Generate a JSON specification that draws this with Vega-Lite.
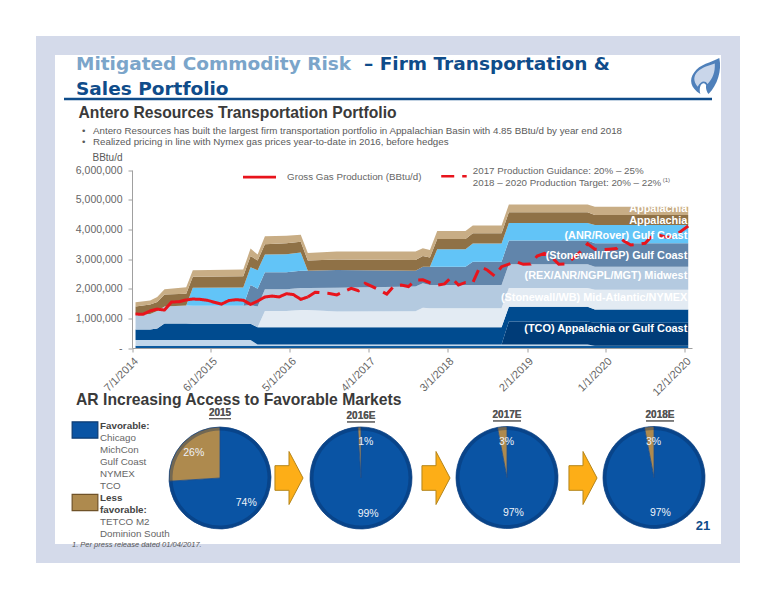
{
  "$schema": "https://vega.github.io/schema/vega-lite/v6.json",
  "width": 685,
  "height": 508,
  "padding": {"left": 45.5, "top": 45.5, "right": 45.5, "bottom": 46.5},
  "autosize": {"type": "none", "contains": "content"},
  "background": "white",
  "view": {"fill": "white", "stroke": "#d4daea", "strokeWidth": 19},
  "config": {"text": {"font": "Liberation Sans"}, "style": {"guide-label": {"font": "Liberation Sans"}}},
  "datasets": {
    "transport": [
      {"date": "2014-07-16", "a_base": 80000, "b_stripe": 190000, "c_tco_deep": 0, "d_tco": 350000, "e_nymex": 0, "f_midwest": 500000, "g_tgp": 0, "h_rover": 0, "i_brown": 280000, "j_tan": 140000},
      {"date": "2014-09-16", "a_base": 80000, "b_stripe": 190000, "c_tco_deep": 0, "d_tco": 350000, "e_nymex": 0, "f_midwest": 530000, "g_tgp": 0, "h_rover": 0, "i_brown": 320000, "j_tan": 130000},
      {"date": "2014-10-16", "a_base": 80000, "b_stripe": 190000, "c_tco_deep": 0, "d_tco": 390000, "e_nymex": 0, "f_midwest": 590000, "g_tgp": 0, "h_rover": 0, "i_brown": 300000, "j_tan": 170000},
      {"date": "2014-11-16", "a_base": 80000, "b_stripe": 190000, "c_tco_deep": 0, "d_tco": 560000, "e_nymex": 0, "f_midwest": 570000, "g_tgp": 0, "h_rover": 0, "i_brown": 400000, "j_tan": 180000},
      {"date": "2015-02-16", "a_base": 80000, "b_stripe": 190000, "c_tco_deep": 0, "d_tco": 560000, "e_nymex": 0, "f_midwest": 600000, "g_tgp": 0, "h_rover": 0, "i_brown": 400000, "j_tan": 220000},
      {"date": "2015-03-16", "a_base": 80000, "b_stripe": 190000, "c_tco_deep": 0, "d_tco": 550000, "e_nymex": 0, "f_midwest": 600000, "g_tgp": 0, "h_rover": 610000, "i_brown": 370000, "j_tan": 220000},
      {"date": "2015-10-16", "a_base": 80000, "b_stripe": 190000, "c_tco_deep": 0, "d_tco": 550000, "e_nymex": 0, "f_midwest": 600000, "g_tgp": 0, "h_rover": 620000, "i_brown": 380000, "j_tan": 230000},
      {"date": "2015-11-16", "a_base": 80000, "b_stripe": 190000, "c_tco_deep": 0, "d_tco": 550000, "e_nymex": 0, "f_midwest": 630000, "g_tgp": 670000, "h_rover": 600000, "i_brown": 380000, "j_tan": 250000},
      {"date": "2015-12-16", "a_base": 80000, "b_stripe": 40000, "c_tco_deep": 0, "d_tco": 580000, "e_nymex": 0, "f_midwest": 700000, "g_tgp": 600000, "h_rover": 620000, "i_brown": 330000, "j_tan": 200000},
      {"date": "2016-01-16", "a_base": 80000, "b_stripe": 40000, "c_tco_deep": 0, "d_tco": 580000, "e_nymex": 550000, "f_midwest": 730000, "g_tgp": 570000, "h_rover": 600000, "i_brown": 350000, "j_tan": 270000},
      {"date": "2016-04-16", "a_base": 80000, "b_stripe": 40000, "c_tco_deep": 0, "d_tco": 580000, "e_nymex": 550000, "f_midwest": 730000, "g_tgp": 570000, "h_rover": 610000, "i_brown": 370000, "j_tan": 250000},
      {"date": "2016-06-16", "a_base": 80000, "b_stripe": 40000, "c_tco_deep": 0, "d_tco": 580000, "e_nymex": 580000, "f_midwest": 740000, "g_tgp": 580000, "h_rover": 620000, "i_brown": 360000, "j_tan": 240000},
      {"date": "2016-07-16", "a_base": 80000, "b_stripe": 40000, "c_tco_deep": 0, "d_tco": 580000, "e_nymex": 580000, "f_midwest": 740000, "g_tgp": 580000, "h_rover": 0, "i_brown": 350000, "j_tan": 250000},
      {"date": "2016-11-16", "a_base": 80000, "b_stripe": 40000, "c_tco_deep": 0, "d_tco": 580000, "e_nymex": 530000, "f_midwest": 800000, "g_tgp": 600000, "h_rover": 0, "i_brown": 350000, "j_tan": 270000},
      {"date": "2017-10-16", "a_base": 80000, "b_stripe": 40000, "c_tco_deep": 0, "d_tco": 580000, "e_nymex": 540000, "f_midwest": 830000, "g_tgp": 530000, "h_rover": 0, "i_brown": 370000, "j_tan": 280000},
      {"date": "2017-11-16", "a_base": 80000, "b_stripe": 40000, "c_tco_deep": 0, "d_tco": 580000, "e_nymex": 660000, "f_midwest": 820000, "g_tgp": 560000, "h_rover": 0, "i_brown": 360000, "j_tan": 260000},
      {"date": "2017-12-16", "a_base": 80000, "b_stripe": 40000, "c_tco_deep": 0, "d_tco": 580000, "e_nymex": 640000, "f_midwest": 780000, "g_tgp": 620000, "h_rover": 0, "i_brown": 310000, "j_tan": 250000},
      {"date": "2018-01-16", "a_base": 80000, "b_stripe": 40000, "c_tco_deep": 0, "d_tco": 580000, "e_nymex": 640000, "f_midwest": 780000, "g_tgp": 620000, "h_rover": 590000, "i_brown": 340000, "j_tan": 270000},
      {"date": "2018-05-16", "a_base": 80000, "b_stripe": 40000, "c_tco_deep": 0, "d_tco": 580000, "e_nymex": 640000, "f_midwest": 780000, "g_tgp": 620000, "h_rover": 590000, "i_brown": 340000, "j_tan": 270000},
      {"date": "2018-06-16", "a_base": 80000, "b_stripe": 40000, "c_tco_deep": 0, "d_tco": 580000, "e_nymex": 640000, "f_midwest": 780000, "g_tgp": 790000, "h_rover": 610000, "i_brown": 350000, "j_tan": 260000},
      {"date": "2018-10-16", "a_base": 80000, "b_stripe": 40000, "c_tco_deep": 0, "d_tco": 580000, "e_nymex": 640000, "f_midwest": 780000, "g_tgp": 790000, "h_rover": 610000, "i_brown": 350000, "j_tan": 260000},
      {"date": "2018-11-16", "a_base": 80000, "b_stripe": 40000, "c_tco_deep": 770000, "d_tco": 500000, "e_nymex": 630000, "f_midwest": 800000, "g_tgp": 800000, "h_rover": 590000, "i_brown": 370000, "j_tan": 260000},
      {"date": "2019-10-16", "a_base": 80000, "b_stripe": 40000, "c_tco_deep": 770000, "d_tco": 500000, "e_nymex": 630000, "f_midwest": 800000, "g_tgp": 800000, "h_rover": 590000, "i_brown": 370000, "j_tan": 260000},
      {"date": "2019-11-16", "a_base": 80000, "b_stripe": 0, "c_tco_deep": 770000, "d_tco": 450000, "e_nymex": 660000, "f_midwest": 780000, "g_tgp": 790000, "h_rover": 620000, "i_brown": 330000, "j_tan": 280000},
      {"date": "2020-12-16", "a_base": 80000, "b_stripe": 0, "c_tco_deep": 770000, "d_tco": 450000, "e_nymex": 660000, "f_midwest": 780000, "g_tgp": 790000, "h_rover": 620000, "i_brown": 330000, "j_tan": 280000}
    ],
    "production": [
      {"date": "2014-07-16", "gross": 1145000, "phase": "actual"},
      {"date": "2014-08-16", "gross": 1135000, "phase": "actual"},
      {"date": "2014-09-16", "gross": 1250000, "phase": "actual"},
      {"date": "2014-10-16", "gross": 1310000, "phase": "actual"},
      {"date": "2014-11-16", "gross": 1280000, "phase": "actual"},
      {"date": "2014-12-16", "gross": 1550000, "phase": "actual"},
      {"date": "2015-01-16", "gross": 1560000, "phase": "actual"},
      {"date": "2015-02-16", "gross": 1620000, "phase": "actual"},
      {"date": "2015-03-16", "gross": 1650000, "phase": "actual"},
      {"date": "2015-04-16", "gross": 1640000, "phase": "actual"},
      {"date": "2015-05-16", "gross": 1610000, "phase": "actual"},
      {"date": "2015-06-16", "gross": 1540000, "phase": "actual"},
      {"date": "2015-07-16", "gross": 1480000, "phase": "actual"},
      {"date": "2015-08-16", "gross": 1600000, "phase": "actual"},
      {"date": "2015-09-16", "gross": 1630000, "phase": "actual"},
      {"date": "2015-10-16", "gross": 1610000, "phase": "actual"},
      {"date": "2015-11-16", "gross": 1470000, "phase": "actual"},
      {"date": "2015-12-16", "gross": 1580000, "phase": "actual"},
      {"date": "2016-01-16", "gross": 1720000, "phase": "actual"},
      {"date": "2016-02-16", "gross": 1750000, "phase": "actual"},
      {"date": "2016-03-16", "gross": 1720000, "phase": "actual"},
      {"date": "2016-04-16", "gross": 1830000, "phase": "actual"},
      {"date": "2016-05-16", "gross": 1800000, "phase": "actual"},
      {"date": "2016-06-16", "gross": 1640000, "phase": "actual"},
      {"date": "2016-07-16", "gross": 1720000, "phase": "actual"},
      {"date": "2016-07-16", "gross": 1720000, "phase": "guidance"},
      {"date": "2016-08-16", "gross": 1880000, "phase": "guidance"},
      {"date": "2016-09-16", "gross": 1860000, "phase": "guidance"},
      {"date": "2016-10-16", "gross": 1840000, "phase": "guidance"},
      {"date": "2016-11-16", "gross": 1790000, "phase": "guidance"},
      {"date": "2016-12-16", "gross": 1900000, "phase": "guidance"},
      {"date": "2017-01-16", "gross": 2010000, "phase": "guidance"},
      {"date": "2017-02-16", "gross": 1930000, "phase": "guidance"},
      {"date": "2017-03-16", "gross": 2180000, "phase": "guidance"},
      {"date": "2017-04-16", "gross": 2070000, "phase": "guidance"},
      {"date": "2017-05-16", "gross": 1950000, "phase": "guidance"},
      {"date": "2017-06-16", "gross": 1820000, "phase": "guidance"},
      {"date": "2017-07-16", "gross": 2090000, "phase": "guidance"},
      {"date": "2017-08-16", "gross": 2120000, "phase": "guidance"},
      {"date": "2017-09-16", "gross": 2070000, "phase": "guidance"},
      {"date": "2017-10-16", "gross": 2290000, "phase": "guidance"},
      {"date": "2017-11-16", "gross": 2300000, "phase": "guidance"},
      {"date": "2017-12-16", "gross": 2200000, "phase": "guidance"},
      {"date": "2018-01-16", "gross": 2120000, "phase": "guidance"},
      {"date": "2018-02-16", "gross": 2160000, "phase": "guidance"},
      {"date": "2018-03-16", "gross": 2380000, "phase": "guidance"},
      {"date": "2018-04-16", "gross": 2120000, "phase": "guidance"},
      {"date": "2018-05-16", "gross": 2210000, "phase": "guidance"},
      {"date": "2018-06-16", "gross": 2200000, "phase": "guidance"},
      {"date": "2018-07-16", "gross": 2740000, "phase": "guidance"},
      {"date": "2018-08-16", "gross": 2630000, "phase": "guidance"},
      {"date": "2018-09-16", "gross": 2430000, "phase": "guidance"},
      {"date": "2018-10-16", "gross": 2740000, "phase": "guidance"},
      {"date": "2018-11-16", "gross": 2830000, "phase": "guidance"},
      {"date": "2018-12-16", "gross": 2910000, "phase": "guidance"},
      {"date": "2019-01-16", "gross": 2820000, "phase": "guidance"},
      {"date": "2019-02-16", "gross": 2830000, "phase": "guidance"},
      {"date": "2019-03-16", "gross": 3100000, "phase": "guidance"},
      {"date": "2019-04-16", "gross": 3190000, "phase": "guidance"},
      {"date": "2019-05-16", "gross": 3060000, "phase": "guidance"},
      {"date": "2019-06-16", "gross": 2820000, "phase": "guidance"},
      {"date": "2019-07-16", "gross": 2830000, "phase": "guidance"},
      {"date": "2019-08-16", "gross": 3020000, "phase": "guidance"},
      {"date": "2019-09-16", "gross": 3250000, "phase": "guidance"},
      {"date": "2019-10-16", "gross": 3510000, "phase": "guidance"},
      {"date": "2019-11-16", "gross": 3330000, "phase": "guidance"},
      {"date": "2019-12-16", "gross": 3310000, "phase": "guidance"},
      {"date": "2020-01-16", "gross": 3330000, "phase": "guidance"},
      {"date": "2020-02-16", "gross": 3350000, "phase": "guidance"},
      {"date": "2020-03-16", "gross": 3620000, "phase": "guidance"},
      {"date": "2020-04-16", "gross": 3470000, "phase": "guidance"},
      {"date": "2020-05-16", "gross": 3490000, "phase": "guidance"},
      {"date": "2020-06-16", "gross": 3530000, "phase": "guidance"},
      {"date": "2020-07-16", "gross": 3780000, "phase": "guidance"},
      {"date": "2020-08-16", "gross": 3800000, "phase": "guidance"},
      {"date": "2020-09-16", "gross": 3730000, "phase": "guidance"},
      {"date": "2020-10-16", "gross": 3750000, "phase": "guidance"},
      {"date": "2020-11-16", "gross": 3940000, "phase": "guidance"},
      {"date": "2020-12-16", "gross": 4110000, "phase": "guidance"}
    ],
    "key_lines": [
      {"date": "2015-10-15", "value": 5760000, "phase": "actual"},
      {"date": "2016-03-03", "value": 5760000, "phase": "actual"},
      {"date": "2018-02-02", "value": 5790000, "phase": "guidance"},
      {"date": "2018-05-21", "value": 5790000, "phase": "guidance"}
    ],
    "key_text": [
      {"date": "2016-04-19", "value": 5760000, "label": "Gross Gas Production (BBtu/d)"},
      {"date": "2018-06-16", "value": 5970000, "label": "2017 Production Guidance: 20% – 25%"},
      {"date": "2018-06-16", "value": 5570000, "label": "2018 – 2020 Production Target: 20% – 22%"}
    ],
    "band_labels": [
      {"date": "2020-12-12", "value": 4670000, "label": "Appalachia"},
      {"date": "2020-12-12", "value": 4290000, "label": "Appalachia"},
      {"date": "2020-12-12", "value": 3760000, "label": "(ANR/Rover) Gulf Coast"},
      {"date": "2020-12-12", "value": 3100000, "label": "(Stonewall/TGP) Gulf Coast"},
      {"date": "2020-12-12", "value": 2420000, "label": "(REX/ANR/NGPL/MGT) Midwest"},
      {"date": "2020-12-12", "value": 1700000, "label": "(Stonewall/WB) Mid-Atlantic/NYMEX"},
      {"date": "2020-12-12", "value": 650000, "label": "(TCO) Appalachia or Gulf Coast"}
    ],
    "pies": [
      {"year": "2015", "group": "Favorable", "share": 0.74},
      {"year": "2015", "group": "Less favorable", "share": 0.26},
      {"year": "2016E", "group": "Favorable", "share": 0.99},
      {"year": "2016E", "group": "Less favorable", "share": 0.01},
      {"year": "2017E", "group": "Favorable", "share": 0.97},
      {"year": "2017E", "group": "Less favorable", "share": 0.03},
      {"year": "2018E", "group": "Favorable", "share": 0.97},
      {"year": "2018E", "group": "Less favorable", "share": 0.03}
    ],
    "market_list": [
      {"text": "Favorable:", "kind": "heading"},
      {"text": "Chicago", "kind": "market"},
      {"text": "MichCon", "kind": "market"},
      {"text": "Gulf Coast", "kind": "market"},
      {"text": "NYMEX", "kind": "market"},
      {"text": "TCO", "kind": "market"},
      {"text": "Less", "kind": "heading"},
      {"text": "favorable:", "kind": "heading"},
      {"text": "TETCO M2", "kind": "market"},
      {"text": "Dominion South", "kind": "market"}
    ]
  },
  "resolve": {"scale": {"x": "independent", "y": "independent", "color": "independent", "theta": "independent", "stroke": "independent", "strokeDash": "independent"}},
  "layer": [
    {
      "data": {"values": [
        {"line": "first", "column": "left", "text": "Mitigated Commodity Risk"},
        {"line": "first", "column": "right", "text": "– Firm Transportation &"},
        {"line": "second", "column": "left", "text": "Sales Portfolio"}
      ]},
      "mark": {"type": "text", "font": "DejaVu Sans", "align": "left", "baseline": "middle", "fontWeight": "bold", "fontSize": 18.5},
      "encoding": {
        "x": {"field": "column", "type": "nominal", "axis": null, "scale": {"domain": ["left", "right"], "range": [30.5, 318.5], "padding": 0}},
        "y": {"field": "line", "type": "nominal", "axis": null, "scale": {"domain": ["first", "second"], "range": [18.5, 43.5], "padding": 0}},
        "text": {"field": "text"},
        "color": {"condition": {"test": "datum.text == 'Mitigated Commodity Risk'", "value": "#7ba5ca"}, "value": "#0f4c8a"}
      }
    },
    {
      "data": {"values": [{"end": "left"}, {"end": "right"}]},
      "mark": {"type": "line", "color": "#0f4c8a", "strokeWidth": 2.5},
      "encoding": {
        "x": {"field": "end", "type": "nominal", "axis": null, "scale": {"domain": ["left", "right"], "range": [18.5, 666.5], "padding": 0}},
        "y": {"field": "end", "type": "nominal", "axis": null, "scale": {"domain": ["left", "right"], "range": [53.5, 53.5], "padding": 0}}
      }
    },
    {
      "data": {"values": [
        {"text": "Antero Resources Transportation Portfolio"},
        {"text": "AR Increasing Access to Favorable Markets"}
      ]},
      "mark": {"type": "text", "align": "left", "baseline": "middle", "fontWeight": "bold", "fontSize": 15.7, "color": "#3a3a3a"},
      "encoding": {
        "x": {"field": "text", "type": "nominal", "axis": null, "scale": {"domain": ["Antero Resources Transportation Portfolio", "AR Increasing Access to Favorable Markets"], "range": [33, 30.5], "padding": 0}},
        "y": {"field": "text", "type": "nominal", "axis": null, "scale": {"domain": ["Antero Resources Transportation Portfolio", "AR Increasing Access to Favorable Markets"], "range": [67.2, 354.5], "padding": 0}},
        "text": {"field": "text"}
      }
    },
    {
      "data": {"values": [
        {"text": "Antero Resources has built the largest firm transportation portfolio in Appalachian Basin with 4.85 BBtu/d by year end 2018"},
        {"text": "Realized pricing in line with Nymex gas prices year-to-date in 2016, before hedges"}
      ]},
      "encoding": {
        "y": {"field": "text", "type": "nominal", "axis": null, "scale": {"domain": ["Antero Resources has built the largest firm transportation portfolio in Appalachian Basin with 4.85 BBtu/d by year end 2018", "Realized pricing in line with Nymex gas prices year-to-date in 2016, before hedges"], "range": [85.2, 96.8], "padding": 0}},
        "x": {"datum": "text", "type": "nominal", "axis": null, "scale": {"domain": ["bullet", "text"], "range": [36.5, 47.5], "padding": 0}}
      },
      "layer": [
        {
          "mark": {"type": "text", "align": "left", "baseline": "middle", "fontSize": 9.75, "color": "#5a5a5a"},
          "encoding": {"text": {"field": "text"}}
        },
        {
          "mark": {"type": "text", "align": "left", "baseline": "middle", "fontSize": 9.75, "color": "#5a5a5a", "text": "•"},
          "encoding": {"x": {"datum": "bullet", "type": "nominal", "axis": null, "scale": {"domain": ["bullet", "text"], "range": [36.5, 47.5], "padding": 0}}}
        }
      ]
    },
    {
      "layer": [
        {
          "data": {"name": "transport"},
          "transform": [{"fold": ["a_base", "b_stripe", "c_tco_deep", "d_tco", "e_nymex", "f_midwest", "g_tgp", "h_rover", "i_brown", "j_tan"], "as": ["band", "volume"]}],
          "mark": {"type": "area", "interpolate": "linear"},
          "encoding": {
            "x": {
              "field": "date", "type": "temporal",
              "scale": {"type": "utc", "domain": [{"year": 2014, "month": 7, "date": 1, "utc": true}, {"year": 2021, "month": 1, "date": 1, "utc": true}], "range": [86.5, 646.5]},
              "axis": {
                "title": null, "offset": -205.5, "grid": false,
                "values": [
                  {"year": 2014, "month": 7, "date": 1, "utc": true}, {"year": 2015, "month": 6, "date": 1, "utc": true},
                  {"year": 2016, "month": 5, "date": 1, "utc": true}, {"year": 2017, "month": 4, "date": 1, "utc": true},
                  {"year": 2018, "month": 3, "date": 1, "utc": true}, {"year": 2019, "month": 2, "date": 1, "utc": true},
                  {"year": 2020, "month": 1, "date": 1, "utc": true}, {"year": 2020, "month": 12, "date": 1, "utc": true}
                ],
                "labelExpr": "utcFormat(datum.value, '%-m/%-d/%Y')",
                "labelAngle": -45, "labelAlign": "right", "labelBaseline": "top", "labelFontSize": 11, "labelColor": "#666666",
                "labelOverlap": false, "labelPadding": 3, "tickSize": 4, "tickColor": "#a0a0a0", "domainColor": "#a0a0a0", "domainWidth": 1
              }
            },
            "y": {
              "field": "volume", "type": "quantitative", "stack": "zero",
              "scale": {"domain": [0, 6000000], "range": [302.5, 124.5], "nice": false},
              "axis": {
                "title": "BBtu/d", "titleFont": "Liberation Sans", "titleFontSize": 10, "titleFontWeight": "normal", "titleColor": "#5a5a5a", "titleAngle": 0,
                "titleAlign": "center", "titleBaseline": "middle", "titleX": -25, "titleY": 111.5,
                "offset": -86.5, "grid": false, "values": [0, 1000000, 2000000, 3000000, 4000000, 5000000, 6000000],
                "labelExpr": "datum.value == 0 ? '-' : format(datum.value, ',')",
                "labelFontSize": 10.5, "labelColor": "#666666", "labelPadding": 6, "tickSize": 4, "tickColor": "#a0a0a0", "domainColor": "#a0a0a0"
              }
            },
            "color": {
              "field": "band", "type": "nominal", "legend": null,
              "scale": {
                "domain": ["a_base", "b_stripe", "c_tco_deep", "d_tco", "e_nymex", "f_midwest", "g_tgp", "h_rover", "i_brown", "j_tan"],
                "range": ["#0d5a9e", "#c1d6ea", "#003c78", "#004b8f", "#e3ebf3", "#b4cae0", "#6185ab", "#62c4f7", "#8f7146", "#c8ad85"]
              }
            },
            "order": {"field": "band"}
          }
        },
        {
          "data": {"name": "production"},
          "mark": {"type": "line", "color": "#e8141c", "strokeWidth": 3},
          "encoding": {
            "x": {"field": "date", "type": "temporal"},
            "y": {"field": "gross", "type": "quantitative"},
            "strokeDash": {"field": "phase", "type": "nominal", "legend": null, "scale": {"domain": ["actual", "guidance"], "range": [[1, 0], [13, 8]]}}
          }
        },
        {
          "data": {"name": "key_lines"},
          "mark": {"type": "line", "color": "#e8141c", "strokeWidth": 2.6},
          "encoding": {
            "x": {"field": "date", "type": "temporal"},
            "y": {"field": "value", "type": "quantitative"},
            "strokeDash": {"field": "phase", "type": "nominal", "legend": null, "scale": {"domain": ["actual", "guidance"], "range": [[1, 0], [12, 3]]}}
          }
        },
        {
          "data": {"name": "key_text"},
          "mark": {"type": "text", "align": "left", "baseline": "middle", "fontSize": 9.75, "color": "#666666"},
          "encoding": {
            "x": {"field": "date", "type": "temporal"},
            "y": {"field": "value", "type": "quantitative"},
            "text": {"field": "label"}
          }
        },
        {
          "data": {"values": [{"date": "2020-08-30", "value": 5650000, "label": "(1)"}]},
          "mark": {"type": "text", "align": "left", "baseline": "middle", "fontSize": 6, "color": "#666666"},
          "encoding": {
            "x": {"field": "date", "type": "temporal"},
            "y": {"field": "value", "type": "quantitative"},
            "text": {"field": "label"}
          }
        },
        {
          "data": {"name": "band_labels"},
          "mark": {"type": "text", "align": "right", "baseline": "middle", "fontSize": 10.9, "fontWeight": "bold", "color": "#ffffff"},
          "encoding": {
            "x": {"field": "date", "type": "temporal"},
            "y": {"field": "value", "type": "quantitative"},
            "text": {"field": "label"}
          }
        }
      ]
    },
    {
      "data": {"values": [{"group": "Favorable"}, {"group": "Less favorable"}]},
      "mark": {"type": "point", "filled": true, "opacity": 1, "size": 660, "strokeWidth": 1.2, "shape": "M-1 -0.63L1 -0.63L1 0.63L-1 0.63Z"},
      "encoding": {
        "x": {"datum": "swatch", "type": "nominal", "axis": null, "scale": {"domain": ["swatch"], "range": [39.5, 39.5], "padding": 0}},
        "y": {"field": "group", "type": "nominal", "axis": null, "scale": {"domain": ["Favorable", "Less favorable"], "range": [384.5, 457], "padding": 0}},
        "color": {"field": "group", "type": "nominal", "legend": null, "scale": {"domain": ["Favorable", "Less favorable"], "range": ["#0a54a4", "#ae8a4e"]}},
        "stroke": {"field": "group", "type": "nominal", "legend": null, "scale": {"domain": ["Favorable", "Less favorable"], "range": ["#0a3a72", "#6f5228"]}}
      }
    },
    {
      "data": {"name": "market_list"},
      "encoding": {
        "x": {"datum": "list", "type": "nominal", "axis": null, "scale": {"domain": ["list"], "range": [54.5, 54.5], "padding": 0}},
        "y": {"field": "text", "type": "nominal", "axis": null, "sort": null, "scale": {"domain": ["Favorable:", "Chicago", "MichCon", "Gulf Coast", "NYMEX", "TCO", "Less", "favorable:", "TETCO M2", "Dominion South"], "range": [380.5, 488.5], "padding": 0}},
        "text": {"field": "text"}
      },
      "layer": [
        {
          "transform": [{"filter": "datum.kind == 'heading'"}],
          "mark": {"type": "text", "align": "left", "baseline": "middle", "fontSize": 9.8, "fontWeight": "bold", "color": "#444444"}
        },
        {
          "transform": [{"filter": "datum.kind == 'market'"}],
          "mark": {"type": "text", "align": "left", "baseline": "middle", "fontSize": 9.8, "color": "#666666"}
        }
      ]
    },
    {
      "data": {"values": [{"step": "2015 to 2016E"}, {"step": "2016E to 2017E"}, {"step": "2017E to 2018E"}]},
      "mark": {"type": "point", "filled": true, "opacity": 1, "size": 2809, "fill": "#fdae17", "stroke": "#b5851a", "strokeWidth": 1, "shape": "M-0.53 -0.465L0 -0.465L0 -1L0.53 0L0 1L0 0.465L-0.53 0.465Z"},
      "encoding": {
        "x": {"field": "step", "type": "nominal", "axis": null, "scale": {"domain": ["2015 to 2016E", "2016E to 2017E", "2017E to 2018E"], "range": [243.5, 537.5], "padding": 0}},
        "y": {"field": "step", "type": "nominal", "axis": null, "scale": {"domain": ["2015 to 2016E", "2016E to 2017E", "2017E to 2018E"], "range": [432.5, 432.5], "padding": 0}}
      }
    },
    {
      "data": {"name": "pies"},
      "transform": [{"filter": "datum.year == '2015'"}],
      "encoding": {
        "x": {"field": "year", "type": "nominal", "axis": null, "scale": {"type": "point", "domain": ["2015"], "range": [174.5, 174.5], "padding": 0}},
        "y": {"datum": "pie", "type": "nominal", "axis": null, "scale": {"type": "point", "domain": ["header", "pie"], "range": [367.2, 432.5], "padding": 0}}
      },
      "layer": [
        {
          "mark": {"type": "arc", "outerRadius": 51, "stroke": "#1b4f8f", "strokeWidth": 0.8},
          "encoding": {
            "theta": {"field": "share", "type": "quantitative", "stack": true},
            "order": {"field": "group"},
            "color": {"field": "group", "type": "nominal", "legend": null, "scale": {"domain": ["Favorable", "Less favorable"], "range": ["#0a54a4", "#ae8a4e"]}}
          }
        },
        {
          "mark": {"type": "arc", "innerRadius": 47.5, "outerRadius": 51, "fill": "#06285c", "fillOpacity": 0.35},
          "encoding": {
            "theta": {"field": "share", "type": "quantitative", "stack": true},
            "order": {"field": "group"}
          }
        },
        {
          "mark": {"type": "text", "radius": 36, "fontSize": 10.5, "color": "#eef2f8", "baseline": "middle"},
          "encoding": {
            "theta": {"field": "share", "type": "quantitative", "stack": true},
            "order": {"field": "group"},
            "text": {"field": "share", "type": "quantitative", "format": ".0%"}
          }
        },
        {
          "mark": {"type": "text", "fontSize": 10, "fontWeight": "bold", "color": "#555555", "baseline": "middle"},
          "encoding": {"y": {"datum": "header", "type": "nominal", "axis": null, "scale": {"type": "point", "domain": ["header", "pie"], "range": [367.2, 432.5], "padding": 0}}, "text": {"field": "year"}}
        },
        {
          "mark": {"type": "point", "filled": true, "opacity": 1, "size": 484, "fill": "#555555", "strokeWidth": 0, "shape": "M-1 0.5L1 0.5L1 0.59L-1 0.59Z"},
          "encoding": {"y": {"datum": "header", "type": "nominal", "axis": null, "scale": {"type": "point", "domain": ["header", "pie"], "range": [367.2, 432.5], "padding": 0}}}
        }
      ]
    },
    {
      "data": {"name": "pies"},
      "transform": [{"filter": "datum.year == '2016E'"}],
      "encoding": {
        "x": {"field": "year", "type": "nominal", "axis": null, "scale": {"type": "point", "domain": ["2016E"], "range": [315.5, 315.5], "padding": 0}},
        "y": {"datum": "pie", "type": "nominal", "axis": null, "scale": {"type": "point", "domain": ["header", "pie"], "range": [370.5, 432.5], "padding": 0}}
      },
      "layer": [
        {
          "mark": {"type": "arc", "outerRadius": 51, "stroke": "#1b4f8f", "strokeWidth": 0.8},
          "encoding": {
            "theta": {"field": "share", "type": "quantitative", "stack": true},
            "order": {"field": "group"},
            "color": {"field": "group", "type": "nominal", "legend": null, "scale": {"domain": ["Favorable", "Less favorable"], "range": ["#0a54a4", "#ae8a4e"]}}
          }
        },
        {
          "mark": {"type": "arc", "innerRadius": 47.5, "outerRadius": 51, "fill": "#06285c", "fillOpacity": 0.35},
          "encoding": {
            "theta": {"field": "share", "type": "quantitative", "stack": true},
            "order": {"field": "group"}
          }
        },
        {
          "mark": {"type": "text", "radius": 36, "dx": 6, "fontSize": 10.5, "color": "#eef2f8", "baseline": "middle"},
          "encoding": {
            "theta": {"field": "share", "type": "quantitative", "stack": true},
            "order": {"field": "group"},
            "text": {"field": "share", "type": "quantitative", "format": ".0%"}
          }
        },
        {
          "mark": {"type": "text", "fontSize": 10, "fontWeight": "bold", "color": "#555555", "baseline": "middle"},
          "encoding": {"y": {"datum": "header", "type": "nominal", "axis": null, "scale": {"type": "point", "domain": ["header", "pie"], "range": [370.5, 432.5], "padding": 0}}, "text": {"field": "year"}}
        },
        {
          "mark": {"type": "point", "filled": true, "opacity": 1, "size": 784, "fill": "#555555", "strokeWidth": 0, "shape": "M-1 0.39L1 0.39L1 0.46L-1 0.46Z"},
          "encoding": {"y": {"datum": "header", "type": "nominal", "axis": null, "scale": {"type": "point", "domain": ["header", "pie"], "range": [370.5, 432.5], "padding": 0}}}
        }
      ]
    },
    {
      "data": {"name": "pies"},
      "transform": [{"filter": "datum.year == '2017E'"}],
      "encoding": {
        "x": {"field": "year", "type": "nominal", "axis": null, "scale": {"type": "point", "domain": ["2017E"], "range": [461.5, 461.5], "padding": 0}},
        "y": {"datum": "pie", "type": "nominal", "axis": null, "scale": {"type": "point", "domain": ["header", "pie"], "range": [369.5, 432], "padding": 0}}
      },
      "layer": [
        {
          "mark": {"type": "arc", "outerRadius": 51, "stroke": "#1b4f8f", "strokeWidth": 0.8},
          "encoding": {
            "theta": {"field": "share", "type": "quantitative", "stack": true},
            "order": {"field": "group"},
            "color": {"field": "group", "type": "nominal", "legend": null, "scale": {"domain": ["Favorable", "Less favorable"], "range": ["#0a54a4", "#ae8a4e"]}}
          }
        },
        {
          "mark": {"type": "arc", "innerRadius": 47.5, "outerRadius": 51, "fill": "#06285c", "fillOpacity": 0.35},
          "encoding": {
            "theta": {"field": "share", "type": "quantitative", "stack": true},
            "order": {"field": "group"}
          }
        },
        {
          "mark": {"type": "text", "radius": 36, "dx": 3, "fontSize": 10.5, "color": "#eef2f8", "baseline": "middle"},
          "encoding": {
            "theta": {"field": "share", "type": "quantitative", "stack": true},
            "order": {"field": "group"},
            "text": {"field": "share", "type": "quantitative", "format": ".0%"}
          }
        },
        {
          "mark": {"type": "text", "fontSize": 10, "fontWeight": "bold", "color": "#555555", "baseline": "middle"},
          "encoding": {"y": {"datum": "header", "type": "nominal", "axis": null, "scale": {"type": "point", "domain": ["header", "pie"], "range": [369.5, 432], "padding": 0}}, "text": {"field": "year"}}
        },
        {
          "mark": {"type": "point", "filled": true, "opacity": 1, "size": 784, "fill": "#555555", "strokeWidth": 0, "shape": "M-1 0.39L1 0.39L1 0.46L-1 0.46Z"},
          "encoding": {"y": {"datum": "header", "type": "nominal", "axis": null, "scale": {"type": "point", "domain": ["header", "pie"], "range": [369.5, 432], "padding": 0}}}
        }
      ]
    },
    {
      "data": {"name": "pies"},
      "transform": [{"filter": "datum.year == '2018E'"}],
      "encoding": {
        "x": {"field": "year", "type": "nominal", "axis": null, "scale": {"type": "point", "domain": ["2018E"], "range": [608.5, 608.5], "padding": 0}},
        "y": {"datum": "pie", "type": "nominal", "axis": null, "scale": {"type": "point", "domain": ["header", "pie"], "range": [369.5, 432], "padding": 0}}
      },
      "layer": [
        {
          "mark": {"type": "arc", "outerRadius": 51, "stroke": "#1b4f8f", "strokeWidth": 0.8},
          "encoding": {
            "theta": {"field": "share", "type": "quantitative", "stack": true},
            "order": {"field": "group"},
            "color": {"field": "group", "type": "nominal", "legend": null, "scale": {"domain": ["Favorable", "Less favorable"], "range": ["#0a54a4", "#ae8a4e"]}}
          }
        },
        {
          "mark": {"type": "arc", "innerRadius": 47.5, "outerRadius": 51, "fill": "#06285c", "fillOpacity": 0.35},
          "encoding": {
            "theta": {"field": "share", "type": "quantitative", "stack": true},
            "order": {"field": "group"}
          }
        },
        {
          "mark": {"type": "text", "radius": 36, "dx": 3, "fontSize": 10.5, "color": "#eef2f8", "baseline": "middle"},
          "encoding": {
            "theta": {"field": "share", "type": "quantitative", "stack": true},
            "order": {"field": "group"},
            "text": {"field": "share", "type": "quantitative", "format": ".0%"}
          }
        },
        {
          "mark": {"type": "text", "fontSize": 10, "fontWeight": "bold", "color": "#555555", "baseline": "middle", "dx": 6},
          "encoding": {"y": {"datum": "header", "type": "nominal", "axis": null, "scale": {"type": "point", "domain": ["header", "pie"], "range": [369.5, 432], "padding": 0}}, "text": {"field": "year"}}
        },
        {
          "mark": {"type": "point", "filled": true, "opacity": 1, "size": 784, "fill": "#555555", "strokeWidth": 0, "shape": "M-0.57 0.39L1.43 0.39L1.43 0.46L-0.57 0.46Z"},
          "encoding": {"y": {"datum": "header", "type": "nominal", "axis": null, "scale": {"type": "point", "domain": ["header", "pie"], "range": [369.5, 432], "padding": 0}}}
        }
      ]
    },
    {
      "data": {"values": [{"note": "1. Per press release dated 01/04/2017."}]},
      "mark": {"type": "text", "align": "left", "baseline": "middle", "fontSize": 7.5, "fontStyle": "italic", "color": "#555555"},
      "encoding": {
        "x": {"field": "note", "type": "nominal", "axis": null, "scale": {"domain": ["1. Per press release dated 01/04/2017."], "range": [26.5, 26.5], "padding": 0}},
        "y": {"field": "note", "type": "nominal", "axis": null, "scale": {"domain": ["1. Per press release dated 01/04/2017."], "range": [499.5, 499.5], "padding": 0}},
        "text": {"field": "note"}
      }
    },
    {
      "data": {"values": [{"page": "21"}]},
      "mark": {"type": "text", "baseline": "middle", "fontSize": 13, "fontWeight": "bold", "color": "#0f4c8a"},
      "encoding": {
        "x": {"field": "page", "type": "nominal", "axis": null, "scale": {"domain": ["21"], "range": [657.5, 657.5], "padding": 0}},
        "y": {"field": "page", "type": "nominal", "axis": null, "scale": {"domain": ["21"], "range": [480.5, 480.5], "padding": 0}},
        "text": {"field": "page"}
      }
    },
    {
      "data": {"values": [{"item": "logo"}]},
      "encoding": {
        "x": {"field": "item", "type": "nominal", "axis": null, "scale": {"domain": ["logo"], "range": [658.5, 658.5], "padding": 0}},
        "y": {"field": "item", "type": "nominal", "axis": null, "scale": {"domain": ["logo"], "range": [30.5, 30.5], "padding": 0}}
      },
      "layer": [
        {"mark": {"type": "point", "filled": true, "opacity": 1, "size": 1296, "fill": "#4f80ba", "strokeWidth": 0, "shape": "M0.85 -1C1 -0.3 0.75 0.5 0.25 1C0.1 0.8 0.1 0.6 0.12 0.5C0 0.35 -0.12 0.4 -0.2 0.55C-0.25 0.7 -0.25 0.85 -0.2 1C-0.75 0.65 -0.85 0.2 -0.55 -0.2C-0.25 -0.65 0.4 -0.75 0.85 -1Z"}},
        {"mark": {"type": "point", "filled": true, "opacity": 1, "size": 1296, "fill": "#c9d6ea", "strokeWidth": 0, "shape": "M0.6 -0.7C0.62 -0.2 0.5 0.1 0.2 0.45C0.05 0.2 -0.2 0.3 -0.35 0.6C-0.6 0.3 -0.6 0 -0.35 -0.25C-0.1 -0.5 0.3 -0.6 0.6 -0.7Z"}}
      ]
    }
  ]
}
